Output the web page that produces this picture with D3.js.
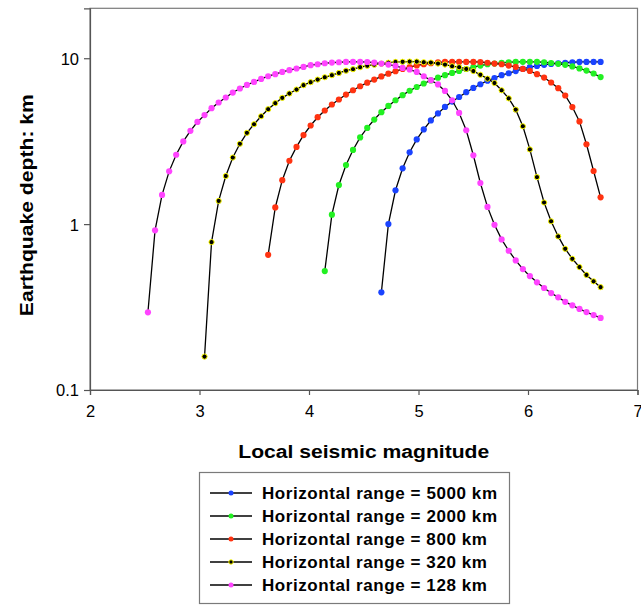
<!DOCTYPE html>
<html>
<head>
<meta charset="utf-8">
<script src="https://cdn.jsdelivr.net/npm/d3@7"></script>
<style>
  html, body { margin: 0; padding: 0; background: #fff; }
  svg { display: block; font-family: "Liberation Sans", Arial, sans-serif; }
</style>
</head>
<body>
<svg id="chart" width="641" height="606"></svg>
<script>
// Magnitude grid shared by every curve (each curve uses the tail end of it)
const magnitudes = [2.529,2.594,2.658,2.723,2.787,2.852,2.917,2.981,3.046,3.110,
  3.175,3.240,3.304,3.369,3.433,3.498,3.563,3.627,3.692,3.756,
  3.821,3.886,3.950,4.015,4.079,4.144,4.209,4.273,4.338,4.402,
  4.467,4.532,4.596,4.661,4.725,4.790,4.855,4.919,4.984,5.048,
  5.113,5.178,5.242,5.307,5.371,5.436,5.501,5.565,5.630,5.694,
  5.759,5.824,5.888,5.953,6.017,6.082,6.147,6.211,6.276,6.340,
  6.405,6.470,6.534,6.599,6.663];

// Earthquake depth (km) for each horizontal range
const depth5000 = [0.388,1.00,1.60,2.17,2.71,3.24,3.72,4.22,4.65,5.09,
  5.48,5.84,6.24,6.62,6.97,7.32,7.60,7.90,8.12,8.37,
  8.62,8.83,8.99,9.12,9.24,9.33,9.39,9.46,9.50,9.50,
  9.50,9.50];
const depth2000 = [0.521,1.14,1.72,2.27,2.80,3.33,3.80,4.27,4.73,5.16,
  5.58,5.99,6.37,6.71,7.04,7.35,7.64,7.90,8.15,8.38,
  8.61,8.84,9.03,9.20,9.29,9.37,9.46,9.50,9.52,9.52,
  9.52,9.46,9.36,9.25,9.12,8.93,8.68,8.43,8.09,7.70];
const depth800 = [0.653,1.26,1.84,2.41,2.92,3.44,3.93,4.41,4.84,5.26,
  5.64,6.04,6.41,6.78,7.12,7.44,7.77,8.07,8.35,8.61,
  8.83,9.05,9.20,9.33,9.44,9.50,9.50,9.50,9.50,9.50,
  9.49,9.39,9.29,9.20,9.03,8.86,8.62,8.38,8.01,7.65,
  7.14,6.60,5.96,5.08,4.16,3.03,2.09,1.45];
const depth320 = [0.159,0.779,1.38,1.95,2.52,3.05,3.55,4.00,4.47,4.93,
  5.36,5.77,6.13,6.48,6.88,7.17,7.44,7.68,7.90,8.15,
  8.41,8.59,8.83,9.01,9.14,9.27,9.40,9.50,9.52,9.55,
  9.55,9.46,9.42,9.29,9.16,8.95,8.83,8.62,8.37,7.95,
  7.53,7.09,6.41,5.73,4.90,3.89,2.82,1.92,1.35,1.04,
  0.843,0.710,0.618,0.551,0.494,0.452,0.417];
const depth128 = [0.294,0.917,1.50,2.08,2.62,3.15,3.65,4.13,4.54,5.00,
  5.41,5.80,6.21,6.57,6.90,7.20,7.50,7.79,8.01,8.27,
  8.47,8.67,8.86,9.08,9.20,9.33,9.42,9.46,9.50,9.50,
  9.50,9.49,9.42,9.29,9.16,8.99,8.74,8.55,8.27,7.79,
  7.37,6.95,6.35,5.58,4.68,3.68,2.60,1.77,1.27,0.99,
  0.809,0.691,0.604,0.536,0.486,0.446,0.412,0.384,0.362,0.340,
  0.324,0.308,0.295,0.283,0.272];

const seriesLabels = ["Horizontal range = 5000 km", "Horizontal range = 2000 km",
  "Horizontal range = 800 km", "Horizontal range = 320 km", "Horizontal range = 128 km"];
const seriesDepths = [depth5000, depth2000, depth800, depth320, depth128];
const markerFill = ["#1a43ff", "#22f022", "#ff3311", "#000000", "#ff44ff"];
const markerStroke = ["none", "none", "none", "#ffff00", "none"];

const xTicks = [2, 3, 4, 5, 6, 7];
const yTicks = [0.1, 1, 10];

// Pair each depth list with the last n magnitudes of the grid
const series = seriesDepths.map((ds, k) => {
  const off = magnitudes.length - ds.length;
  return {
    label: seriesLabels[k],
    fill: markerFill[k],
    stroke: markerStroke[k],
    points: ds.map((d, i) => ({ m: magnitudes[off + i], d }))
  };
});

const svg = d3.select("#chart");
const plot = { left: 90, right: 637.5, top: 8.3, bottom: 390 };

const x = d3.scaleLinear().domain([2, 7]).range([plot.left, plot.right]);
const y = d3.scaleLog().domain([0.1, 20]).range([plot.bottom, plot.top]);

// plot frame
svg.append("rect")
  .attr("x", plot.left).attr("y", plot.top)
  .attr("width", plot.right - plot.left).attr("height", plot.bottom - plot.top)
  .attr("fill", "#fff").attr("stroke", "#7a7a7a").attr("stroke-width", 1.2);

// axes
const xAxis = svg.append("g")
  .attr("transform", `translate(0,${plot.bottom})`)
  .call(d3.axisBottom(x).tickValues(xTicks).tickSize(5).tickPadding(10).tickFormat(d3.format("d")));
const yAxis = svg.append("g")
  .attr("transform", `translate(${plot.left},0)`)
  .call(d3.axisLeft(y).tickValues(yTicks).tickSize(6).tickPadding(5).tickFormat(d => String(d)));

[xAxis, yAxis].forEach(g => {
  g.select(".domain").attr("stroke", "#555").attr("stroke-width", 1.2);
  g.selectAll(".tick line").attr("stroke", "#555").attr("stroke-width", 1.2);
  g.selectAll(".tick text").attr("fill", "#000")
    .style("font-size", "16.5px").style("font-family", "'Liberation Sans', Arial, sans-serif");
});
yAxis.selectAll(".tick text").attr("dy", "0.36em");

// axis titles
svg.append("text")
  .attr("x", (plot.left + plot.right) / 2).attr("y", 458)
  .attr("text-anchor", "middle")
  .style("font-size", "18px").style("font-weight", "bold")
  .attr("textLength", 251).attr("lengthAdjust", "spacingAndGlyphs")
  .text("Local seismic magnitude");

svg.append("text")
  .attr("transform", `translate(33,${(plot.top + plot.bottom) / 2 + 6}) rotate(-90)`)
  .attr("text-anchor", "middle")
  .style("font-size", "18px").style("font-weight", "bold")
  .attr("textLength", 222).attr("lengthAdjust", "spacingAndGlyphs")
  .text("Earthquake depth: km");

// curves
const line = d3.line().x(p => x(p.m)).y(p => y(p.d));
series.forEach(s => {
  const g = svg.append("g");
  g.append("path").datum(s.points)
    .attr("d", line).attr("fill", "none")
    .attr("stroke", "#000").attr("stroke-width", 1.3);
  g.selectAll("circle").data(s.points).join("circle")
    .attr("cx", p => x(p.m)).attr("cy", p => y(p.d))
    .attr("r", s.stroke === "none" ? 3.1 : 2.6)
    .attr("fill", s.fill)
    .attr("stroke", s.stroke === "none" ? null : s.stroke)
    .attr("stroke-width", 1);
});

// legend
const legend = svg.append("g");
legend.append("rect")
  .attr("x", 199.5).attr("y", 472.5).attr("width", 310).attr("height", 131)
  .attr("fill", "#fff").attr("stroke", "#7a7a7a").attr("stroke-width", 1.2);
const rows = legend.selectAll("g.row").data(series).join("g")
  .attr("class", "row")
  .attr("transform", (s, i) => `translate(0,${493 + i * 23})`);
rows.append("line")
  .attr("x1", 210).attr("x2", 252).attr("y1", 0).attr("y2", 0)
  .attr("stroke", "#000").attr("stroke-width", 1.3);
rows.append("circle")
  .attr("cx", 231).attr("cy", 0).attr("r", s => s.stroke === "none" ? 2.5 : 2.2)
  .attr("fill", s => s.fill)
  .attr("stroke", s => s.stroke === "none" ? null : s.stroke)
  .attr("stroke-width", 1);
const labels = rows.append("text")
  .attr("x", 262).attr("y", 0).attr("dy", "0.36em")
  .style("font-size", "17px").style("font-weight", "bold")
  .text(s => s.label);
// widen the labels a little so the longest one spans the legend box
const widest = d3.max(labels.nodes(), n => n.getComputedTextLength());
const stretch = 235 / widest;
labels.each(function () {
  const w = this.getComputedTextLength();
  d3.select(this).attr("textLength", w * stretch).attr("lengthAdjust", "spacing");
});
</script>
</body>
</html>
